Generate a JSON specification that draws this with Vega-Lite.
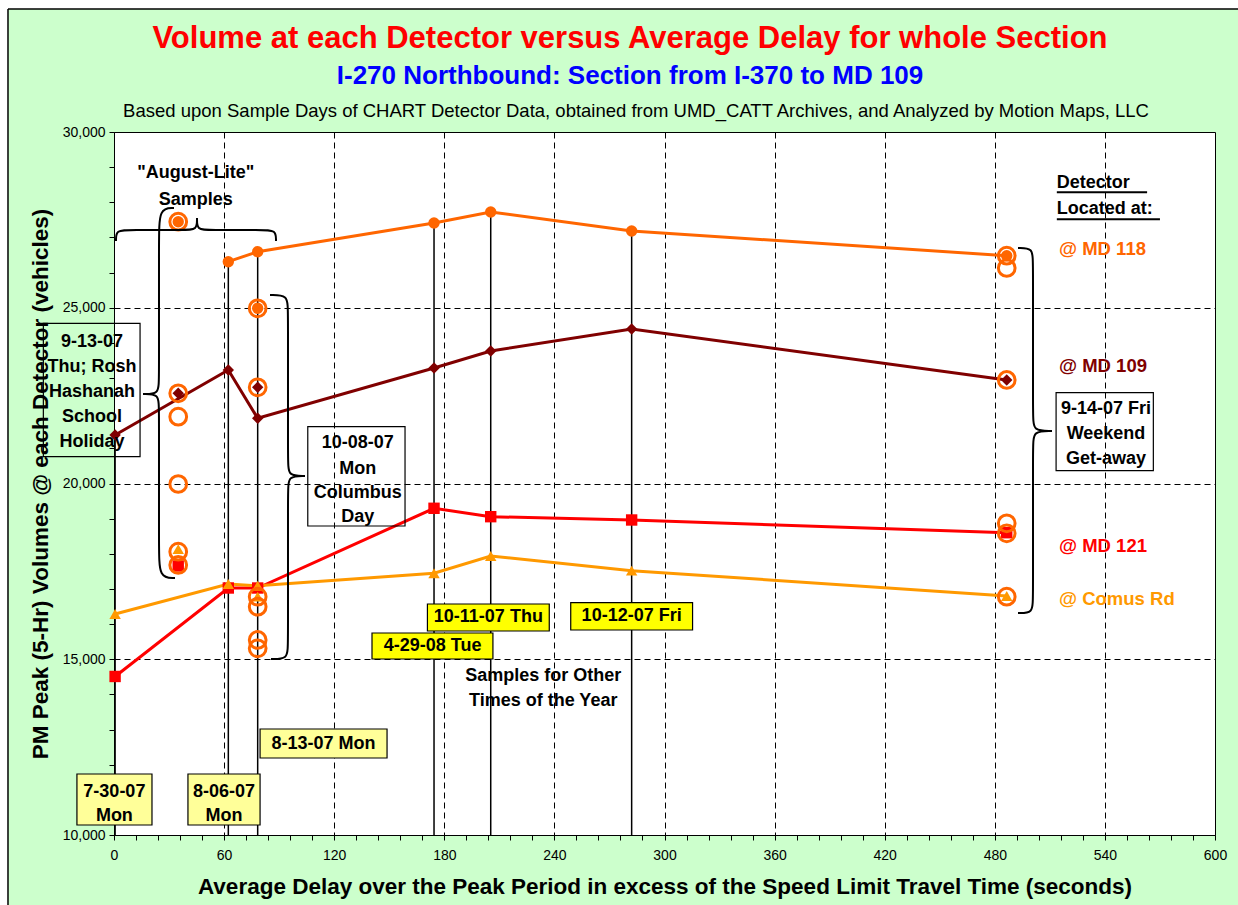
{
  "$schema": "https://vega.github.io/schema/vega-lite/v6.json",
  "width": 1101,
  "height": 703,
  "autosize": {"type": "none"},
  "padding": {"left": 114, "top": 132, "right": 23, "bottom": 70},
  "background": "#CCFFCC",
  "config": {
    "font": "Liberation Sans",
    "view": {"stroke": "#000000", "strokeWidth": 1, "fill": "#FFFFFF"},
    "axis": {
      "domainColor": "#000000",
      "tickColor": "#000000",
      "labelColor": "#000000",
      "titleColor": "#000000",
      "labelFont": "Liberation Sans",
      "titleFont": "Liberation Sans"
    }
  },
  "datasets": {
    "series": [
      {"series": "MD118", "date": "8-06-07", "delay": 62.3, "volume": 26310, "line": true},
      {"series": "MD118", "date": "8-13-07", "delay": 78.3, "volume": 26595, "line": true},
      {"series": "MD118", "date": "4-29-08", "delay": 174.4, "volume": 27411, "line": true},
      {"series": "MD118", "date": "10-11-07", "delay": 205.3, "volume": 27724, "line": true},
      {"series": "MD118", "date": "10-12-07", "delay": 282.1, "volume": 27184, "line": true},
      {"series": "MD118", "date": "9-14-07", "delay": 486.5, "volume": 26480, "line": true},
      {"series": "MD118", "date": "9-13-07", "delay": 35.0, "volume": 27448, "line": false},
      {"series": "MD118", "date": "10-08-07", "delay": 78.3, "volume": 24984, "line": false},
      {"series": "MD109", "date": "7-30-07", "delay": 0.6, "volume": 21380, "line": true},
      {"series": "MD109", "date": "8-06-07", "delay": 62.3, "volume": 23229, "line": true},
      {"series": "MD109", "date": "8-13-07", "delay": 78.3, "volume": 21855, "line": true},
      {"series": "MD109", "date": "4-29-08", "delay": 174.4, "volume": 23286, "line": true},
      {"series": "MD109", "date": "10-11-07", "delay": 205.3, "volume": 23770, "line": true},
      {"series": "MD109", "date": "10-12-07", "delay": 282.1, "volume": 24395, "line": true},
      {"series": "MD109", "date": "9-14-07", "delay": 486.5, "volume": 22945, "line": true},
      {"series": "MD109", "date": "9-13-07", "delay": 35.0, "volume": 22566, "line": false},
      {"series": "MD109", "date": "10-08-07", "delay": 78.3, "volume": 22737, "line": false},
      {"series": "MD121", "date": "7-30-07", "delay": 0.6, "volume": 14510, "line": true},
      {"series": "MD121", "date": "8-06-07", "delay": 62.3, "volume": 17027, "line": true},
      {"series": "MD121", "date": "8-13-07", "delay": 78.3, "volume": 17027, "line": true},
      {"series": "MD121", "date": "4-29-08", "delay": 174.4, "volume": 19295, "line": true},
      {"series": "MD121", "date": "10-11-07", "delay": 205.3, "volume": 19056, "line": true},
      {"series": "MD121", "date": "10-12-07", "delay": 282.1, "volume": 18962, "line": true},
      {"series": "MD121", "date": "9-14-07", "delay": 486.5, "volume": 18600, "line": true},
      {"series": "MD121", "date": "9-13-07", "delay": 35.0, "volume": 17653, "line": false},
      {"series": "Comus", "date": "7-30-07", "delay": 0.6, "volume": 16287, "line": true},
      {"series": "Comus", "date": "8-06-07", "delay": 62.3, "volume": 17141, "line": true},
      {"series": "Comus", "date": "8-13-07", "delay": 78.3, "volume": 17090, "line": true},
      {"series": "Comus", "date": "4-29-08", "delay": 174.4, "volume": 17445, "line": true},
      {"series": "Comus", "date": "10-11-07", "delay": 205.3, "volume": 17938, "line": true},
      {"series": "Comus", "date": "10-12-07", "delay": 282.1, "volume": 17520, "line": true},
      {"series": "Comus", "date": "9-14-07", "delay": 486.5, "volume": 16800, "line": true},
      {"series": "Comus", "date": "9-13-07", "delay": 35.0, "volume": 18134, "line": false},
      {"series": "Comus", "date": "10-08-07", "delay": 78.3, "volume": 16780, "line": false}
    ],
    "drops": [
      {"delay": 0.6, "volume": 21380},
      {"delay": 62.3, "volume": 26310},
      {"delay": 78.3, "volume": 26595},
      {"delay": 174.4, "volume": 27411},
      {"delay": 205.3, "volume": 27724},
      {"delay": 282.1, "volume": 27184}
    ],
    "rings": [
      {"delay": 35.0, "volume": 27448},
      {"delay": 35.0, "volume": 22566},
      {"delay": 35.0, "volume": 21901},
      {"delay": 35.0, "volume": 19986},
      {"delay": 35.0, "volume": 18060},
      {"delay": 35.0, "volume": 17682},
      {"delay": 78.3, "volume": 24984},
      {"delay": 78.3, "volume": 22737},
      {"delay": 78.3, "volume": 16780},
      {"delay": 78.3, "volume": 16495},
      {"delay": 78.3, "volume": 15548},
      {"delay": 78.3, "volume": 15312},
      {"delay": 486.5, "volume": 26480},
      {"delay": 486.5, "volume": 26131},
      {"delay": 486.5, "volume": 22945},
      {"delay": 486.5, "volume": 18867},
      {"delay": 486.5, "volume": 18584},
      {"delay": 486.5, "volume": 16780}
    ],
    "boxes": [
      {"delay": -38.5, "delay2": 14.2, "volume": 24558, "volume2": 20763, "kind": "clear"},
      {"delay": 105.6, "delay2": 158.6, "volume": 21616, "volume2": 18791, "kind": "clear"},
      {"delay": 513.4, "delay2": 566.4, "volume": 22583, "volume2": 20364, "kind": "clear"},
      {"delay": -20.2, "delay2": 20.7, "volume": 11736, "volume2": 10285, "kind": "pale"},
      {"delay": 40.3, "delay2": 79.6, "volume": 11736, "volume2": 10285, "kind": "pale"},
      {"delay": 79.6, "delay2": 148.8, "volume": 13016, "volume2": 12191, "kind": "pale"},
      {"delay": 140.6, "delay2": 206.5, "volume": 15747, "volume2": 15007, "kind": "bright"},
      {"delay": 170.8, "delay2": 237.2, "volume": 16572, "volume2": 15804, "kind": "bright"},
      {"delay": 248.9, "delay2": 315.3, "volume": 16609, "volume2": 15832, "kind": "bright"}
    ],
    "boxText": [
      {"delay": -12.0, "volume": 24026, "label": "9-13-07"},
      {"delay": -12.0, "volume": 23315, "label": "Thu; Rosh"},
      {"delay": -12.0, "volume": 22604, "label": "Hashanah"},
      {"delay": -12.0, "volume": 21893, "label": "School"},
      {"delay": -12.0, "volume": 21182, "label": "Holiday"},
      {"delay": 132.8, "volume": 21144, "label": "10-08-07"},
      {"delay": 132.8, "volume": 20413, "label": "Mon"},
      {"delay": 132.8, "volume": 19739, "label": "Columbus"},
      {"delay": 132.8, "volume": 19038, "label": "Day"},
      {"delay": 540.6, "volume": 22111, "label": "9-14-07 Fri"},
      {"delay": 540.6, "volume": 21400, "label": "Weekend"},
      {"delay": 540.6, "volume": 20697, "label": "Get-away"},
      {"delay": 0.2, "volume": 11224, "label": "7-30-07"},
      {"delay": 0.2, "volume": 10541, "label": "Mon"},
      {"delay": 59.9, "volume": 11224, "label": "8-06-07"},
      {"delay": 59.9, "volume": 10541, "label": "Mon"},
      {"delay": 114.2, "volume": 12589, "label": "8-13-07 Mon"},
      {"delay": 173.6, "volume": 15377, "label": "4-29-08 Tue"},
      {"delay": 204.0, "volume": 16188, "label": "10-11-07 Thu"},
      {"delay": 282.1, "volume": 16231, "label": "10-12-07 Fri"},
      {"delay": 44.6, "volume": 28825, "label": "\"August-Lite\""},
      {"delay": 44.6, "volume": 28065, "label": "Samples"},
      {"delay": 233.9, "volume": 14532, "label": "Samples for Other"},
      {"delay": 233.9, "volume": 13813, "label": "Times of the Year"}
    ],
    "header": [
      {"delay": 513.8, "volume": 28540, "label": "Detector"},
      {"delay": 513.8, "volume": 27801, "label": "Located at:"}
    ],
    "underline": [
      {"delay": 513.8, "delay2": 563.0, "volume": 28285},
      {"delay": 513.8, "delay2": 570.0, "volume": 27516}
    ],
    "seriesLabels": [
      {"series": "MD118", "delay": 515.0, "volume": 26663, "label": "@ MD 118"},
      {"series": "MD109", "delay": 515.0, "volume": 23352, "label": "@ MD 109"},
      {"series": "MD121", "delay": 515.0, "volume": 18231, "label": "@ MD 121"},
      {"series": "Comus", "delay": 515.0, "volume": 16705, "label": "@ Comus Rd"}
    ],
    "heading": [
      {"delay": 281.2, "volume": 32650, "label": "Volume at each Detector versus Average Delay for whole Section"}
    ],
    "subheading": [
      {"delay": 281.2, "volume": 31600, "label": "I-270 Northbound: Section from I-370 to MD 109"}
    ],
    "note": [
      {"delay": 284.5, "volume": 30597, "label": "Based upon Sample Days of CHART Detector Data, obtained from UMD_CATT Archives, and Analyzed by Motion Maps, LLC"}
    ],
    "braces": [
      {"brace": "A", "i": 1, "delay": 32.70, "volume": 27838},
      {"brace": "A", "i": 2, "delay": 24.52, "volume": 27838},
      {"brace": "A", "i": 3, "delay": 24.52, "volume": 26928},
      {"brace": "A", "i": 4, "delay": 24.52, "volume": 22945},
      {"brace": "A", "i": 5, "delay": 24.52, "volume": 22546},
      {"brace": "A", "i": 6, "delay": 15.80, "volume": 22546},
      {"brace": "A", "i": 7, "delay": 15.80, "volume": 22546},
      {"brace": "A", "i": 8, "delay": 15.80, "volume": 22546},
      {"brace": "A", "i": 9, "delay": 24.52, "volume": 22546},
      {"brace": "A", "i": 10, "delay": 24.52, "volume": 22148},
      {"brace": "A", "i": 11, "delay": 24.52, "volume": 18165},
      {"brace": "A", "i": 12, "delay": 24.52, "volume": 17312},
      {"brace": "A", "i": 13, "delay": 33.24, "volume": 17312},
      {"brace": "B", "i": 1, "delay": 1.09, "volume": 26899},
      {"brace": "B", "i": 2, "delay": 1.09, "volume": 27212},
      {"brace": "B", "i": 3, "delay": 8.72, "volume": 27212},
      {"brace": "B", "i": 4, "delay": 38.69, "volume": 27212},
      {"brace": "B", "i": 5, "delay": 45.23, "volume": 27212},
      {"brace": "B", "i": 6, "delay": 45.23, "volume": 27553},
      {"brace": "B", "i": 7, "delay": 45.23, "volume": 27553},
      {"brace": "B", "i": 8, "delay": 45.23, "volume": 27553},
      {"brace": "B", "i": 9, "delay": 45.23, "volume": 27212},
      {"brace": "B", "i": 10, "delay": 51.77, "volume": 27212},
      {"brace": "B", "i": 11, "delay": 80.65, "volume": 27212},
      {"brace": "B", "i": 12, "delay": 88.28, "volume": 27212},
      {"brace": "B", "i": 13, "delay": 88.28, "volume": 26899},
      {"brace": "C", "i": 1, "delay": 85.01, "volume": 25363},
      {"brace": "C", "i": 2, "delay": 94.82, "volume": 25363},
      {"brace": "C", "i": 3, "delay": 94.82, "volume": 24936},
      {"brace": "C", "i": 4, "delay": 94.82, "volume": 20612},
      {"brace": "C", "i": 5, "delay": 94.82, "volume": 20214},
      {"brace": "C", "i": 6, "delay": 104.09, "volume": 20214},
      {"brace": "C", "i": 7, "delay": 104.09, "volume": 20214},
      {"brace": "C", "i": 8, "delay": 104.09, "volume": 20214},
      {"brace": "C", "i": 9, "delay": 94.82, "volume": 20214},
      {"brace": "C", "i": 10, "delay": 94.82, "volume": 19815},
      {"brace": "C", "i": 11, "delay": 94.82, "volume": 15406},
      {"brace": "C", "i": 12, "delay": 94.82, "volume": 15007},
      {"brace": "C", "i": 13, "delay": 85.56, "volume": 15007},
      {"brace": "D", "i": 1, "delay": 492.64, "volume": 26700},
      {"brace": "D", "i": 2, "delay": 500.82, "volume": 26700},
      {"brace": "D", "i": 3, "delay": 500.82, "volume": 26302},
      {"brace": "D", "i": 4, "delay": 500.82, "volume": 21892},
      {"brace": "D", "i": 5, "delay": 500.82, "volume": 21494},
      {"brace": "D", "i": 6, "delay": 511.17, "volume": 21494},
      {"brace": "D", "i": 7, "delay": 511.17, "volume": 21494},
      {"brace": "D", "i": 8, "delay": 511.17, "volume": 21494},
      {"brace": "D", "i": 9, "delay": 500.82, "volume": 21494},
      {"brace": "D", "i": 10, "delay": 500.82, "volume": 21095},
      {"brace": "D", "i": 11, "delay": 500.82, "volume": 16714},
      {"brace": "D", "i": 12, "delay": 500.82, "volume": 16316},
      {"brace": "D", "i": 13, "delay": 492.64, "volume": 16316}
    ],
    "margin": [
      {"delay": -73, "delay2": 625, "volume": 33499, "volume2": 34324},
      {"delay": -73, "delay2": -57.77, "volume": 7440, "volume2": 34324}
    ],
    "frameV": [{"delay": -57.77, "volume": 7440, "volume2": 33499}],
    "frameH": [{"delay": -57.77, "delay2": 625, "volume": 33499}]
  },
  "encoding": {
    "x": {
      "field": "delay", "type": "quantitative",
      "scale": {"domain": [0, 600], "nice": false, "zero": false},
      "axis": {
        "title": "Average Delay over the Peak Period in excess of the Speed Limit Travel Time (seconds)",
        "titleFontSize": 22.5, "titleFontWeight": "bold", "titlePadding": 13,
        "values": [0,12,24,36,48,60,72,84,96,108,120,132,144,156,168,180,192,204,216,228,240,252,264,276,288,300,312,324,336,348,360,372,384,396,408,420,432,444,456,468,480,492,504,516,528,540,552,564,576,588,600],
        "labelExpr": "datum.value % 60 === 0 ? format(datum.value, 'd') : ''",
        "labelFontSize": 14, "labelPadding": 8, "labelOverlap": false, "labelFlush": false,
        "tickSize": 5, "domainWidth": 1,
        "grid": true, "gridColor": "#000000", "gridDash": [6, 4], "gridWidth": 1,
        "gridOpacity": {"condition": {"test": "datum.value % 60 === 0 && datum.value > 0 && datum.value < 600", "value": 1}, "value": 0}
      }
    },
    "y": {
      "field": "volume", "type": "quantitative",
      "scale": {"domain": [10000, 30000], "nice": false, "zero": false},
      "axis": {
        "title": "PM Peak (5-Hr) Volumes @ each Detector (vehicles)",
        "titleFontSize": 22.5, "titleFontWeight": "bold", "titlePadding": 10,
        "values": [10000,11000,12000,13000,14000,15000,16000,17000,18000,19000,20000,21000,22000,23000,24000,25000,26000,27000,28000,29000,30000],
        "labelExpr": "datum.value % 5000 === 0 ? format(datum.value, ',') : ''",
        "labelFontSize": 14, "labelPadding": 4, "labelOverlap": false, "labelFlush": false,
        "tickSize": 5, "domainWidth": 1,
        "grid": true, "gridColor": "#000000", "gridDash": [6, 4], "gridWidth": 1,
        "gridOpacity": {"condition": {"test": "datum.value % 5000 === 0 && datum.value > 10000 && datum.value < 30000", "value": 1}, "value": 0}
      }
    }
  },
  "layer": [
    {
      "data": {"name": "drops"},
      "mark": {"type": "rule", "color": "#000000", "strokeWidth": 1.5},
      "encoding": {"y2": {"datum": 10000}}
    },
    {
      "data": {"name": "series"},
      "transform": [{"filter": "datum.line"}],
      "mark": {"type": "line", "strokeWidth": 3},
      "encoding": {
        "color": {
          "field": "series", "type": "nominal",
          "scale": {"domain": ["MD118", "MD109", "MD121", "Comus"], "range": ["#FF6600", "#800000", "#FF0000", "#FF9900"]},
          "legend": null
        }
      }
    },
    {
      "data": {"name": "series"},
      "mark": {"type": "point", "filled": true, "size": 130, "opacity": 1},
      "encoding": {
        "color": {"field": "series", "type": "nominal", "legend": null},
        "shape": {
          "field": "series", "type": "nominal",
          "scale": {"domain": ["MD118", "MD109", "MD121", "Comus"], "range": ["circle", "diamond", "square", "triangle-up"]},
          "legend": null
        }
      }
    },
    {
      "data": {"name": "rings"},
      "mark": {"type": "point", "filled": false, "shape": "circle", "size": 280, "strokeWidth": 3, "color": "#FF6600", "opacity": 1},
      "encoding": {}
    },
    {
      "data": {"name": "boxes"},
      "mark": {"type": "rect", "stroke": "#000000", "strokeWidth": 1.2},
      "encoding": {
        "x2": {"field": "delay2"},
        "y2": {"field": "volume2"},
        "fill": {
          "field": "kind", "type": "nominal",
          "scale": {"domain": ["clear", "pale", "bright"], "range": ["transparent", "#FFFF99", "#FFFF00"]},
          "legend": null
        }
      }
    },
    {
      "data": {"name": "boxText"},
      "mark": {"type": "text", "fontSize": 18, "fontWeight": "bold", "color": "#000000", "align": "center", "baseline": "middle"},
      "encoding": {"text": {"field": "label"}}
    },
    {
      "data": {"name": "header"},
      "mark": {"type": "text", "fontSize": 18, "fontWeight": "bold", "color": "#000000", "align": "left", "baseline": "middle"},
      "encoding": {"text": {"field": "label"}}
    },
    {
      "data": {"name": "underline"},
      "mark": {"type": "rule", "color": "#000000", "strokeWidth": 2},
      "encoding": {"x2": {"field": "delay2"}}
    },
    {
      "data": {"name": "seriesLabels"},
      "mark": {"type": "text", "fontSize": 18.5, "fontWeight": "bold", "align": "left", "baseline": "middle"},
      "encoding": {
        "text": {"field": "label"},
        "color": {"field": "series", "type": "nominal", "legend": null}
      }
    },
    {
      "data": {"name": "heading"},
      "mark": {"type": "text", "fontSize": 31, "fontWeight": "bold", "color": "#FF0000", "align": "center", "baseline": "middle"},
      "encoding": {"text": {"field": "label"}}
    },
    {
      "data": {"name": "subheading"},
      "mark": {"type": "text", "fontSize": 26, "fontWeight": "bold", "color": "#0000FF", "align": "center", "baseline": "middle"},
      "encoding": {"text": {"field": "label"}}
    },
    {
      "data": {"name": "note"},
      "mark": {"type": "text", "fontSize": 18.5, "color": "#000000", "align": "center", "baseline": "middle"},
      "encoding": {"text": {"field": "label"}}
    },
    {
      "data": {"name": "braces"},
      "mark": {"type": "line", "interpolate": "basis", "color": "#000000", "strokeWidth": 2},
      "encoding": {
        "detail": {"field": "brace"},
        "order": {"field": "i", "type": "quantitative"}
      }
    },
    {
      "data": {"name": "margin"},
      "mark": {"type": "rect", "fill": "#FFFFFF", "strokeWidth": 0},
      "encoding": {
        "x2": {"field": "delay2"},
        "y2": {"field": "volume2"}
      }
    },
    {
      "data": {"name": "frameV"},
      "mark": {"type": "rule", "color": "#000000", "strokeWidth": 1.5},
      "encoding": {"y2": {"field": "volume2"}}
    },
    {
      "data": {"name": "frameH"},
      "mark": {"type": "rule", "color": "#000000", "strokeWidth": 1.5},
      "encoding": {"x2": {"field": "delay2"}}
    }
  ]
}
